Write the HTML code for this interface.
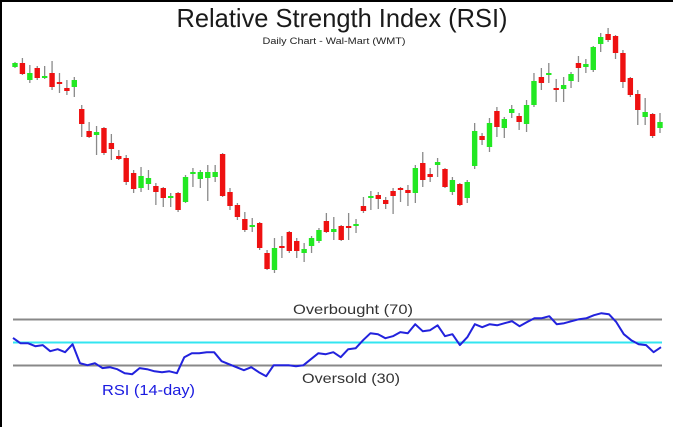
<!DOCTYPE html>
<html>
<head>
<meta charset="utf-8">
<style>
html,body{margin:0;padding:0;background:#fff;}
svg{display:block;}
text{font-family:"Liberation Sans",sans-serif;}
</style>
</head>
<body>
<svg id="chart" width="673" height="427" viewBox="0 0 673 427" xmlns="http://www.w3.org/2000/svg">
  <rect x="0" y="0" width="673" height="427" fill="#fff"/>
  <rect x="0" y="0" width="673" height="2" fill="#000"/>
  <rect x="0" y="0" width="2" height="427" fill="#000"/>
  <text x="342" y="27" font-size="26" fill="#1a1a1a" text-anchor="middle" textLength="331" lengthAdjust="spacingAndGlyphs">Relative Strength Index (RSI)</text>
  <text x="334" y="44" font-size="9" fill="#222" text-anchor="middle" textLength="143" lengthAdjust="spacingAndGlyphs">Daily Chart - Wal-Mart (WMT)</text>
  <g id="candles"></g>
  <line x1="13" x2="662" y1="319.5" y2="319.5" stroke="#888" stroke-width="2"/>
  <line x1="13" x2="662" y1="365.5" y2="365.5" stroke="#888" stroke-width="2"/>
  <line x1="13" x2="662" y1="342.5" y2="342.5" stroke="#33e5f0" stroke-width="2"/>
  <polyline id="rsiLine" fill="none" stroke="#2222dd" stroke-width="2" stroke-linejoin="round"/>
  <text x="293" y="314" font-size="14" fill="#333" textLength="120" lengthAdjust="spacingAndGlyphs">Overbought (70)</text>
  <text x="302" y="383" font-size="14" fill="#333" textLength="98" lengthAdjust="spacingAndGlyphs">Oversold (30)</text>
  <text x="102" y="395" font-size="15" fill="#1a1ae0" textLength="93" lengthAdjust="spacingAndGlyphs">RSI (14-day)</text>
</svg>
<script>
const opens  = [233,237,220,232,222,227,218,212,213,191,169,165,172,157,144,142,127,112,116,114,112,102,107,98,127,121,122,123,146,108,95,81,73,77,47,30,54,68,59,47,54,59,79,68,74,74,74,94,102,105,100,109,112,110,107,137,126,135,131,108,116,102,134,164,153,189,172,187,184,176,195,223,226,212,211,219,237,233,230,256,266,264,247,222,206,183,186,172];
const highs  = [238,242,235,234,234,239,227,220,223,195,178,174,173,166,150,145,130,133,130,117,113,107,108,125,132,130,135,135,147,112,97,88,82,78,50,62,64,69,62,57,64,72,87,83,75,87,81,103,109,108,103,112,113,115,135,148,132,142,132,123,117,120,177,167,182,193,183,195,187,200,227,232,237,221,223,228,244,241,254,267,272,265,250,223,210,202,187,187];
const lows   = [232,225,217,220,221,210,207,205,203,163,162,145,145,140,140,115,107,108,110,95,93,93,88,97,113,112,99,118,103,90,80,68,68,50,30,27,42,47,42,38,47,57,67,60,59,60,67,87,90,91,91,86,98,94,97,113,118,123,112,105,94,97,131,155,148,163,162,182,170,168,193,210,217,198,198,212,218,227,228,248,258,241,212,203,175,175,162,167];
const closes = [237,226,227,222,224,213,216,209,220,176,163,168,147,151,141,118,111,124,122,108,102,104,90,123,128,128,128,128,104,94,83,70,75,52,31,52,52,49,49,51,62,70,68,71,60,73,76,89,104,101,96,104,110,107,132,120,123,138,113,120,95,118,169,160,177,173,181,191,178,195,219,217,227,211,215,226,232,236,253,263,260,247,218,205,190,188,164,178];
const rsiValues = [54.0,49.4,49.4,46.8,47.7,42.4,44.2,41.6,48.5,32.0,30.3,32.0,27.7,28.5,26.8,23.3,22.4,27.7,26.8,25.0,24.2,25.0,23.3,37.2,40.7,40.7,41.6,41.6,33.7,31.1,28.5,25.9,28.5,24.2,20.7,30.3,30.3,30.3,29.4,30.3,35.5,40.7,39.8,41.6,37.2,44.2,45.0,52.0,58.1,57.2,53.7,55.5,59.0,58.1,65.9,59.8,60.7,65.0,55.5,57.2,47.7,54.6,65.9,63.3,65.9,65.0,66.8,68.5,64.2,67.7,71.1,71.1,72.9,65.9,66.8,68.5,70.3,71.1,73.7,75.5,74.6,67.7,57.2,52.0,48.5,47.7,41.6,45.9];
const rsiLevels = [70, 50, 30];

const NS = "http://www.w3.org/2000/svg";
// price axis: value -> pixel
const priceY = p => 300 - p;
const candleX = i => 15 + i * (645 / (opens.length - 1));
const rsiY = v => 319.5 + (70 - v) * (46 / 40);
const rsiX = i => 13 + i * (648 / (rsiValues.length - 1));

const g = document.getElementById('candles');
for (let i = 0; i < opens.length; i++) {
  const x = candleX(i);
  const up = closes[i] >= opens[i];
  const wick = document.createElementNS(NS, 'line');
  
  
  wick.setAttribute('x1', x); wick.setAttribute('x2', x);
  wick.setAttribute('y1', priceY(highs[i])); wick.setAttribute('y2', priceY(lows[i]));
  wick.setAttribute('stroke', '#8a8a8a'); wick.setAttribute('stroke-width', '1.3');
  g.appendChild(wick);
  const body = document.createElementNS(NS, 'rect');
  
  
  const top = priceY(Math.max(opens[i], closes[i]));
  const h = Math.max(2, Math.abs(opens[i] - closes[i]));
  body.setAttribute('x', x - 2.7); body.setAttribute('width', 5.4);
  body.setAttribute('y', top); body.setAttribute('height', h);
  body.setAttribute('fill', up ? '#22e822' : '#ee1111');
  g.appendChild(body);
}
const pts = rsiValues.map((v, i) => rsiX(i).toFixed(1) + ',' + rsiY(v).toFixed(1)).join(' ');
document.getElementById('rsiLine').setAttribute('points', pts);
</script>
</body>
</html>
